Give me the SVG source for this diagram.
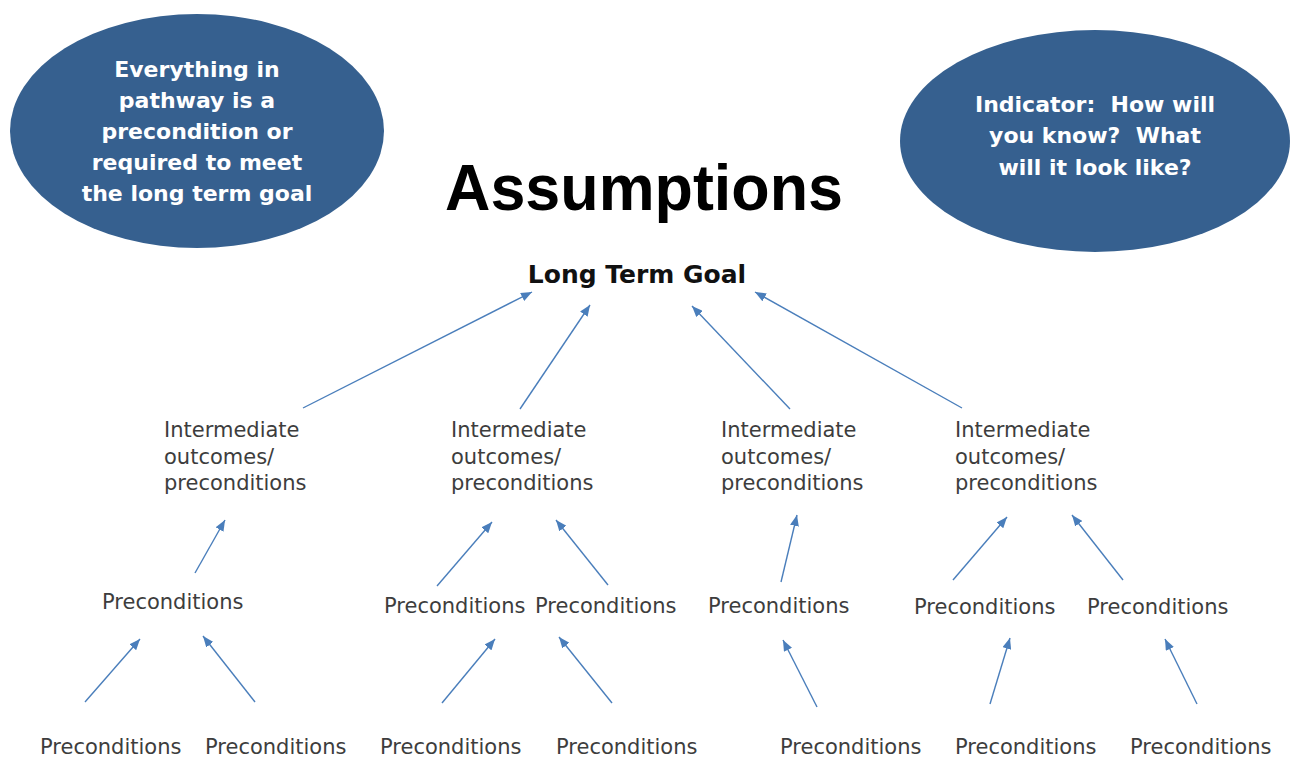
<svg xmlns="http://www.w3.org/2000/svg" width="1294" height="759" viewBox="0 0 1294 759">
  <style>
    .bubble { fill: #36608f; }
    .bubble-text { font-family: "DejaVu Sans", "Liberation Sans", sans-serif; font-weight: bold; font-size: 22px; fill: #ffffff; text-anchor: middle; white-space: pre; }
    .title { font-family: "Liberation Sans", Arial, sans-serif; font-weight: bold; font-size: 64px; fill: #000000; text-anchor: middle; }
    .goal { font-family: "DejaVu Sans", "Liberation Sans", sans-serif; font-weight: bold; font-size: 25px; fill: #111111; text-anchor: middle; }
    .label { font-family: "DejaVu Sans", "Liberation Sans", sans-serif; font-size: 21px; fill: #3d3d3d; }
    .link { stroke: #4a7ebb; stroke-width: 1.4; fill: none; marker-end: url(#tip); }
  </style>
  <defs>
    <marker id="tip" markerUnits="userSpaceOnUse" markerWidth="12" markerHeight="9" refX="11" refY="4.5" orient="auto">
      <path d="M0,0 L11,4.5 L0,9 z" fill="#4a7ebb"/>
    </marker>
  </defs>

  <rect width="1294" height="759" fill="#ffffff"/>

  <!-- callout bubbles -->
  <g id="bubble-pathway">
    <ellipse class="bubble" cx="197" cy="131" rx="187" ry="117"/>
    <text class="bubble-text" x="197" y="77">Everything in</text>
    <text class="bubble-text" x="197" y="108">pathway is a</text>
    <text class="bubble-text" x="197" y="139">precondition or</text>
    <text class="bubble-text" x="197" y="170">required to meet</text>
    <text class="bubble-text" x="197" y="201">the long term goal</text>
  </g>
  <g id="bubble-indicator">
    <ellipse class="bubble" cx="1095" cy="141" rx="195" ry="111"/>
    <text class="bubble-text" x="1095" y="112">Indicator:  How will</text>
    <text class="bubble-text" x="1095" y="143">you know?  What</text>
    <text class="bubble-text" x="1095" y="175">will it look like?</text>
  </g>

  <g id="title">
    <text class="title" x="644" y="210" textLength="398" lengthAdjust="spacingAndGlyphs">Assumptions</text>
  </g>

  <g id="goal">
    <text class="goal" x="637" y="283">Long Term Goal</text>
  </g>

  <!-- intermediate outcomes -->
  <g id="intermediate-1">
    <text class="label" x="164" y="437">Intermediate</text>
    <text class="label" x="164" y="464">outcomes/</text>
    <text class="label" x="164" y="490">preconditions</text>
  </g>
  <g id="intermediate-2">
    <text class="label" x="451" y="437">Intermediate</text>
    <text class="label" x="451" y="464">outcomes/</text>
    <text class="label" x="451" y="490">preconditions</text>
  </g>
  <g id="intermediate-3">
    <text class="label" x="721" y="437">Intermediate</text>
    <text class="label" x="721" y="464">outcomes/</text>
    <text class="label" x="721" y="490">preconditions</text>
  </g>
  <g id="intermediate-4">
    <text class="label" x="955" y="437">Intermediate</text>
    <text class="label" x="955" y="464">outcomes/</text>
    <text class="label" x="955" y="490">preconditions</text>
  </g>

  <!-- middle row preconditions -->
  <g id="pre-m1"><text class="label" x="102" y="609">Preconditions</text></g>
  <g id="pre-m2"><text class="label" x="384" y="613">Preconditions</text></g>
  <g id="pre-m3"><text class="label" x="535" y="613">Preconditions</text></g>
  <g id="pre-m4"><text class="label" x="708" y="613">Preconditions</text></g>
  <g id="pre-m5"><text class="label" x="914" y="614">Preconditions</text></g>
  <g id="pre-m6"><text class="label" x="1087" y="614">Preconditions</text></g>

  <!-- bottom row preconditions -->
  <g id="pre-b1"><text class="label" x="40" y="754">Preconditions</text></g>
  <g id="pre-b2"><text class="label" x="205" y="754">Preconditions</text></g>
  <g id="pre-b3"><text class="label" x="380" y="754">Preconditions</text></g>
  <g id="pre-b4"><text class="label" x="556" y="754">Preconditions</text></g>
  <g id="pre-b5"><text class="label" x="780" y="754">Preconditions</text></g>
  <g id="pre-b6"><text class="label" x="955" y="754">Preconditions</text></g>
  <g id="pre-b7"><text class="label" x="1130" y="754">Preconditions</text></g>

  <!-- connectors -->
  <g id="connectors">
    <line class="link" x1="303" y1="408" x2="532" y2="292"/>
    <line class="link" x1="520" y1="409" x2="590" y2="305"/>
    <line class="link" x1="790" y1="409" x2="692" y2="306"/>
    <line class="link" x1="962" y1="408" x2="755" y2="292"/>

    <line class="link" x1="195" y1="573" x2="225" y2="520"/>
    <line class="link" x1="437" y1="586" x2="492" y2="522"/>
    <line class="link" x1="608" y1="585" x2="556" y2="520"/>
    <line class="link" x1="781" y1="582" x2="797" y2="515"/>
    <line class="link" x1="953" y1="580" x2="1007" y2="517"/>
    <line class="link" x1="1123" y1="580" x2="1072" y2="515"/>

    <line class="link" x1="85" y1="702" x2="140" y2="639"/>
    <line class="link" x1="255" y1="702" x2="203" y2="636"/>
    <line class="link" x1="442" y1="703" x2="495" y2="639"/>
    <line class="link" x1="612" y1="703" x2="559" y2="637"/>
    <line class="link" x1="817" y1="707" x2="783" y2="640"/>
    <line class="link" x1="990" y1="704" x2="1010" y2="638"/>
    <line class="link" x1="1197" y1="704" x2="1165" y2="639"/>
  </g>
</svg>
